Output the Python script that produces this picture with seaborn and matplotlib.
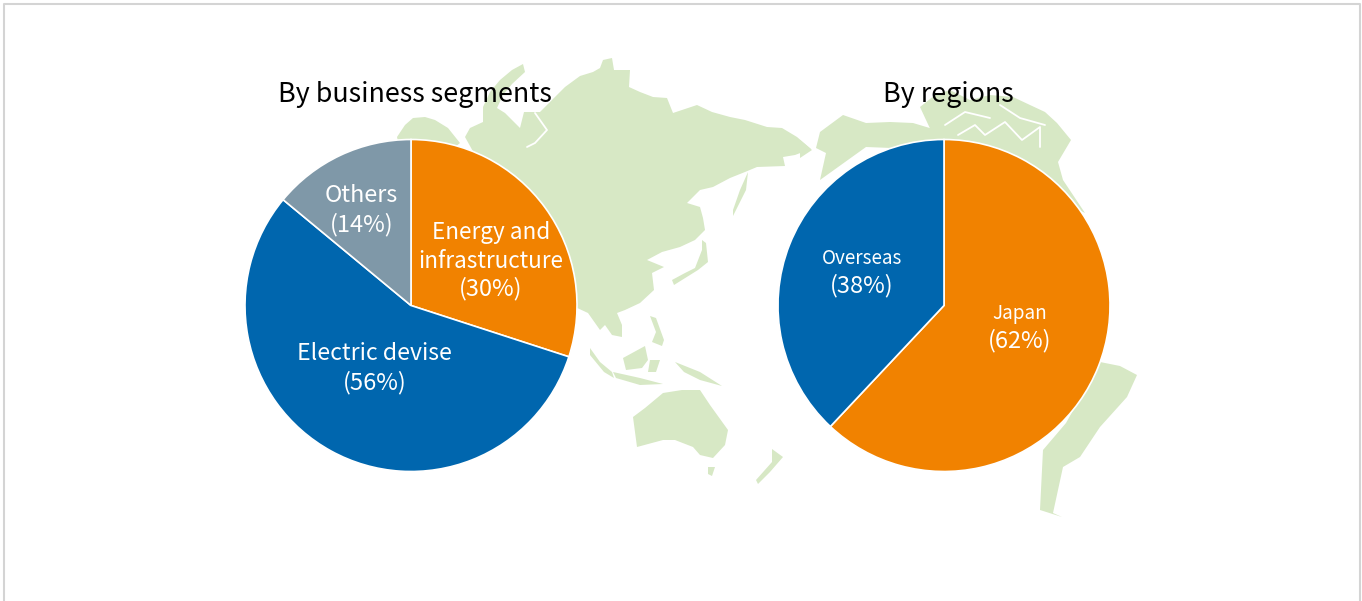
import matplotlib
matplotlib.use('Agg')
import matplotlib.pyplot as plt
from matplotlib.patches import Polygon
import seaborn as sns

# pie data
segment_names = ['Energy and\ninfrastructure', 'Electric devise', 'Others']
segment_share = [30, 56, 14]
region_names = ['Japan', 'Overseas']
region_share = [62, 38]

W, H = 1362, 601
BLUE = '#0066ae'
ORANGE = '#f18200'
GREY = '#7f98a8'
LAND = '#d7e8c5'

sns.set_theme(style='white')
plt.rcParams['font.family'] = ['Noto Sans CJK JP', 'DejaVu Sans']

# background map, rough outlines in pixels of the picture
eurasia = [(465,137),(470,128),(483,122),(483,107),(490,92),(500,80),(512,70),(523,64),(525,72),(512,84),(503,95),(497,108),
           (505,113),(520,128),(524,112),(540,112),(552,100),(565,87),(580,76),(593,72),(600,68),(603,60),(612,58),(614,70),
           (630,70),(629,87),(640,92),(653,97),(667,98),(673,113),(697,105),(712,112),(730,117),(745,120),(767,127),(782,128),
           (797,137),(811,149),(795,155),(783,157),(785,166),(757,167),(745,172),(730,178),(713,187),(700,190),(687,203),
           (700,207),(703,218),(705,230),(695,240),(680,247),(662,252),(647,260),(664,267),(652,273),(654,290),(640,303),
           (625,310),(617,313),(622,325),(622,337),(612,335),(605,325),(600,330),(588,313),(560,300),(500,200)]
land_parts = [
    eurasia,
    [(397,137),(405,125),(413,118),(425,117),(435,120),(448,128),(460,143),(440,160),(400,150)],
    [(733,210),(740,190),(748,172),(746,190),(733,216)],
    [(672,280),(685,273),(695,268),(702,250),(702,240),(706,243),(708,262),(698,270),(674,285)],
    [(590,348),(600,362),(612,372),(614,378),(604,372),(590,355)],
    [(613,372),(640,378),(663,384),(640,385),(616,378)],
    [(623,358),(645,346),(648,360),(642,368),(626,370)],
    [(650,316),(656,318),(664,340),(662,346),(652,342),(656,332)],
    [(650,360),(660,360),(656,372),(648,372)],
    [(675,362),(700,372),(722,386),(700,380),(684,372)],
    [(633,417),(645,408),(663,393),(682,390),(700,390),(710,405),(728,430),(725,445),(713,458),(700,455),(693,447),
     (675,440),(663,440),(637,447)],
    [(708,467),(715,467),(712,476),(708,474)],
    [(758,484),(770,472),(783,457),(772,449),(772,462),(756,480)],
    [(820,132),(843,115),(866,123),(890,122),(913,123),(943,132),(943,150),(866,147),(820,180),(826,153),(816,148)],
    [(800,140),(812,150),(800,158)],
    [(920,107),(935,95),(950,90),(970,100),(990,95),(1013,97),(1030,105),(1045,112),(1057,123),(1071,140),(1058,162),
     (1063,180),(1085,213),(1000,170),(940,150)],
    [(1100,362),(1120,366),(1137,375),(1127,397),(1100,427),(1080,457),(1063,467),(1053,513),(1062,517),(1040,510),
     (1043,450),(1066,423)],
]
# inlets and channels cut out of the land
inlets = [
    [(535,113),(547,130),(535,143),(527,147)],
    [(958,135),(975,125),(985,135),(1005,122),(1022,140),(1040,127),(1040,147)],
    [(945,125),(965,112),(990,118)],
    [(1000,105),(1020,118),(1045,125)],
]

fig = plt.figure(figsize=(W / 100, H / 100), dpi=100)
bg = fig.add_axes([0, 0, 1, 1], zorder=0)
bg.set_xlim(0, W)
bg.set_ylim(H, 0)
bg.axis('off')
for part in land_parts:
    bg.add_patch(Polygon(part, closed=True, fc=LAND, ec='none'))
for line in inlets:
    bg.plot([p[0] for p in line], [p[1] for p in line], color='white', lw=1.3)
# frame is open at the bottom
bg.plot([3.5, 3.5, 1359.5, 1359.5], [H, 3.5, 3.5, H], color='#d4d4d4', lw=1.5)


def draw_pie(x0, values, colors):
    ax = fig.add_axes([x0 / W, 1 - 471.5 / H, 332 / W, 332 / H], zorder=1)
    ax.pie(values, colors=colors, startangle=90, counterclock=False,
           wedgeprops={'edgecolor': 'white', 'linewidth': 1.2})
    ax.set_xlim(-1, 1)
    ax.set_ylim(-1, 1)
    return ax


draw_pie(245, segment_share, [ORANGE, BLUE, GREY])
draw_pie(778, region_share, [ORANGE, BLUE])


def label(x, y, s, size, color='white'):
    fig.text(x / W, 1 - y / H, s, ha='center', va='center', color=color, fontsize=size, linespacing=1.3)


label(415, 95, 'By business segments', 19.3, 'black')
label(948, 95, 'By regions', 19.3, 'black')

segment_xy = [(491, 247), (374.5, 354), (361.5, 196)]
segment_size = [16.2, 16.6, 16.8]
segment_gap = [42, 29, 29]
for (x, y), name, share, size, gap in zip(segment_xy, segment_names, segment_share, segment_size, segment_gap):
    label(x, y, name, size)
    label(x, y + gap, '(%d%%)' % share, 17)

region_xy = [(1020, 313), (862, 258)]
for (x, y), name, share in zip(region_xy, region_names, region_share):
    label(x, y, name, 13.6)
    label(x, y + 28, '(%d%%)' % share, 17)

fig.savefig('out.png', dpi=100)
